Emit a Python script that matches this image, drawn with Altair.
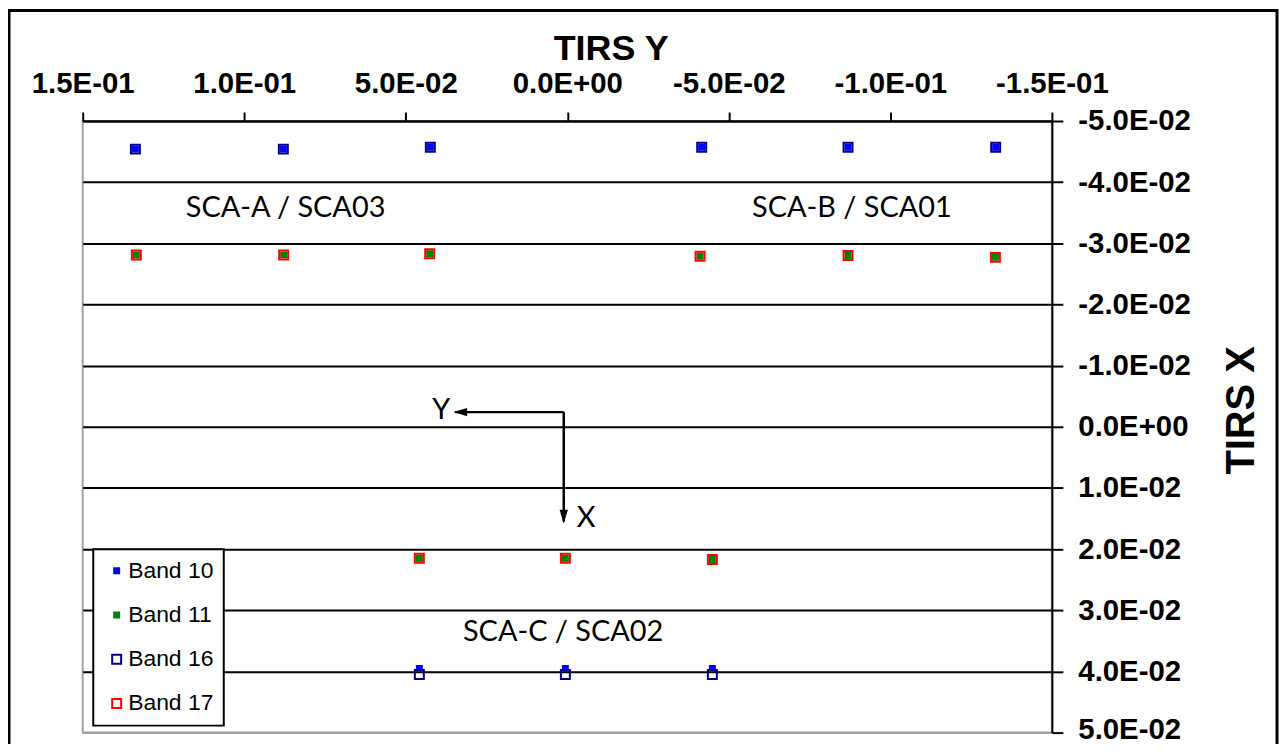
import altair as alt
import pandas as pd

# ---------------- data ----------------
bands = ["Band 10", "Band 11", "Band 16", "Band 17"]
band_colors = ["#0000FF", "#008000", "#000080", "#FF0000"]
band_fills = ["#0000FF", "#008000", "transparent", "transparent"]
band_sizes = [25, 25, 81, 81]

# TIRS Y (horizontal) and TIRS X (vertical) per band
b10_ty = [0.1337, 0.0879, 0.0424, -0.0416, -0.0869, -0.1326, 0.0458, 0.0006, -0.0449]
b10_tx = [-0.0454, -0.0454, -0.0457, -0.0457, -0.0457, -0.0457, 0.0395, 0.0395, 0.0395]
b11_ty = [0.1334, 0.0878, 0.0426, -0.0411, -0.0869, -0.1325, 0.0458, 0.0006, -0.0449]
b11_tx = [-0.0281, -0.0281, -0.0283, -0.0279, -0.0280, -0.0277, 0.0215, 0.0215, 0.0217]
b16_ty = [0.1337, 0.0879, 0.0424, -0.0416, -0.0869, -0.1326, 0.0458, 0.0006, -0.0449]
b16_tx = [-0.0454, -0.0454, -0.0457, -0.0457, -0.0457, -0.0457, 0.0405, 0.0405, 0.0405]
b17_ty = [0.1334, 0.0878, 0.0426, -0.0411, -0.0869, -0.1325, 0.0458, 0.0006, -0.0449]
b17_tx = [-0.0281, -0.0281, -0.0283, -0.0279, -0.0280, -0.0277, 0.0215, 0.0215, 0.0217]

x_ticks = [0.15, 0.1, 0.05, 0.0, -0.05, -0.1, -0.15]
y_ticks = [-0.05, -0.04, -0.03, -0.02, -0.01, 0.0, 0.01, 0.02, 0.03, 0.04, 0.05]

ann_text = ["SCA-A / SCA03", "SCA-B / SCA01", "SCA-C / SCA02", "Y", "X"]
ann_ty = [0.0872, -0.0881, 0.0013, 0.0390, -0.0058]
ann_tx = [-0.0358, -0.0358, 0.0335, -0.0028, 0.0149]

arr_from_ty = [0.0011, 0.0011]
arr_from_tx = [-0.0024, -0.0024]
arr_to_ty = [0.0347, 0.0011]
arr_to_tx = [-0.0024, 0.0155]

# ---------------- tables ----------------
rows = []
for b, tys, txs in zip(bands, [b10_ty, b11_ty, b16_ty, b17_ty], [b10_tx, b11_tx, b16_tx, b17_tx]):
    for ty, tx in zip(tys, txs):
        rows.append({"band": b, "ty": ty, "tx": tx})
pts = pd.DataFrame(rows)
ann = pd.DataFrame({"label": ann_text, "ty": ann_ty, "tx": ann_tx})
arr = pd.DataFrame({"ty": arr_from_ty, "tx": arr_from_tx, "ty2": arr_to_ty, "tx2": arr_to_tx})
head_left = pd.DataFrame({"ty": [arr_to_ty[0]], "tx": [arr_to_tx[0]]})
head_down = pd.DataFrame({"ty": [arr_to_ty[1]], "tx": [arr_to_tx[1]]})
frame = pd.DataFrame({"k": [0]})

# ---------------- scales & axes ----------------
sci = ("datum.value == 0 ? '0.0E+00' : (datum.value < 0 ? '-' : '') + "
       "format(abs(datum.value) / pow(10, floor(log(abs(datum.value)) / LN10 + 1e-9)), '.1f') + 'E' + "
       "(floor(log(abs(datum.value)) / LN10 + 1e-9) < 0 ? '-' : '+') + '0' + "
       "abs(floor(log(abs(datum.value)) / LN10 + 1e-9))")

xscale = alt.Scale(domain=[-0.15, 0.15], reverse=True, nice=False, zero=False)
yscale = alt.Scale(domain=[-0.05, 0.05], reverse=True, nice=False, zero=False)

FONT = "Liberation Sans"

xaxis = alt.Axis(orient="top", values=x_ticks, labelExpr=sci, grid=False,
                 title="TIRS Y", titleFont=FONT, titleFontSize=36, titleFontWeight="bold",
                 titleColor="black", titleX=530, titleY=-62, titleBaseline="alphabetic",
                 titleAlign="center", domainColor="black", domainWidth=2,
                 tickColor="black", tickWidth=2, tickSize=9,
                 labelFont=FONT, labelFontWeight="bold", labelFontSize=29.5, labelColor="black",
                 labelPadding=14, labelFlush=False, labelOverlap=False)

yaxis = alt.Axis(orient="right", values=y_ticks, labelExpr=sci, grid=True,
                 gridColor={"condition": {"test": "datum.value > 0.045", "value": "#a0a0a0"},
                            "value": "black"},
                 gridWidth=2,
                 title="TIRS X", titleFont=FONT, titleFontSize=40, titleFontWeight="bold",
                 titleColor="black", titleAngle=270, titleX=190, titleY=290,
                 titleBaseline="middle", titleAlign="center",
                 domainColor="black", domainWidth=2, tickColor="black", tickWidth=2, tickSize=11,
                 labelFont=FONT, labelFontWeight="bold", labelFontSize=29.5, labelColor="black",
                 labelAlign="left", labelBaseline="middle", labelPadding=15,
                 labelOffset={"condition": {"test": "datum.value > 0.045", "value": -3},
                              "value": 0},
                 labelFlush=False, labelOverlap=False)


def X(f):
    return alt.X(f, type="quantitative", scale=xscale, axis=xaxis)


def Y(f):
    return alt.Y(f, type="quantitative", scale=yscale, axis=yaxis)


legend = alt.Legend(title=None, orient="none", legendX=10.6, legendY=430, direction="vertical",
                    fillColor="white", strokeColor="black", padding=10,
                    rowPadding=20.4, labelFont=FONT, labelFontSize=23, labelColor="black",
                    symbolType="square", symbolStrokeWidth=2, symbolOffset=2, labelOffset=0,
                    labelLimit=0)

# ---------------- layers ----------------
frame_layer = alt.Chart(frame).mark_rect(
    fill="transparent", stroke="black", strokeWidth=3, clip=False
).encode(x=alt.value(-74), x2=alt.value(1199), y=alt.value(-111), y2=alt.value(700))

arrow_lines = alt.Chart(arr).mark_rule(color="black", strokeWidth=2.5).encode(
    x=X("ty"), y=Y("tx"), x2="ty2", y2="tx2")

heads_l = alt.Chart(head_left).mark_point(
    shape="M-0.3,0L2,-0.7L2,0.7Z", filled=True, color="black", size=144, opacity=1
).encode(x=X("ty"), y=Y("tx"))

heads_d = alt.Chart(head_down).mark_point(
    shape="M0,0.3L-0.7,-2L0.7,-2Z", filled=True, color="black", size=144, opacity=1
).encode(x=X("ty"), y=Y("tx"))

points = alt.Chart(pts).mark_point(shape="square", strokeWidth=2, opacity=1).encode(
    x=X("ty"),
    y=Y("tx"),
    color=alt.Color("band:N", scale=alt.Scale(domain=bands, range=band_colors), legend=legend),
    fill=alt.Fill("band:N", scale=alt.Scale(domain=bands, range=band_fills), legend=legend),
    size=alt.Size("band:N", scale=alt.Scale(type="ordinal", domain=bands, range=band_sizes),
                  legend=legend),
)

texts = alt.Chart(ann).mark_text(font="Lato", fontSize=29, color="black",
                                 align="center", baseline="middle").encode(
    x=X("ty"), y=Y("tx"), text="label:N")

chart = alt.layer(frame_layer, arrow_lines, heads_l, heads_d, points, texts).properties(
    width=973, height=614,
    autosize=alt.AutoSizeParams(type="none"),
    padding={"left": 75, "top": 112, "right": 228, "bottom": 10},
    background="white",
).configure_view(stroke="#a0a0a0", strokeWidth=2).configure_legend(strokeWidth=2)

chart.save("out.html", embed_options={"renderer": "svg", "actions": False})
